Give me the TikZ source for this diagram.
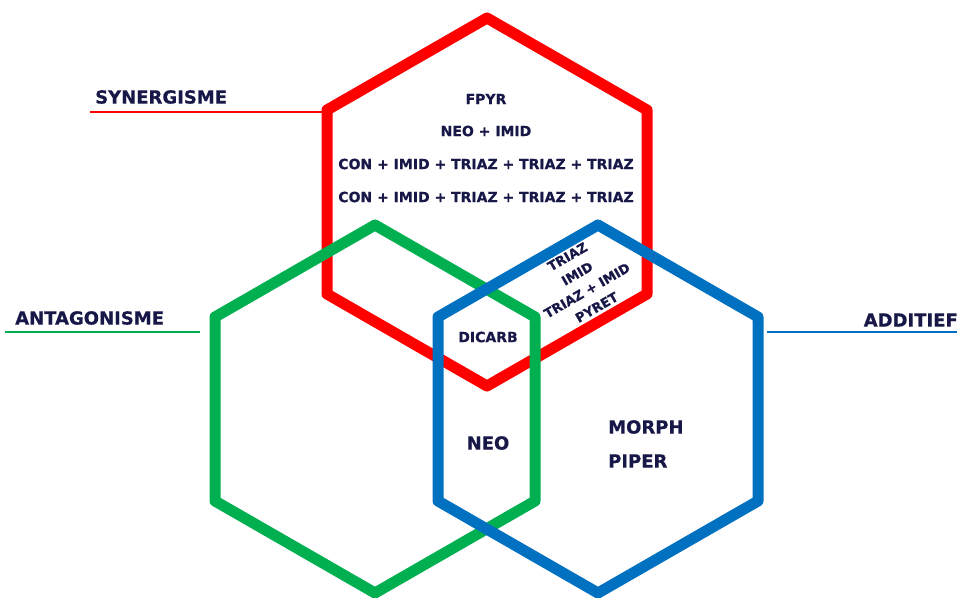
\documentclass[tikz,border=0pt]{standalone}
\usepackage{fontspec}
\setmainfont{DejaVu Sans}[BoldFont={DejaVu Sans Bold}, BoldFeatures={FakeBold=0.6}]
\usetikzlibrary{calc}
\definecolor{synred}{RGB}{255,0,0}
\definecolor{antgreen}{RGB}{0,176,80}
\definecolor{addblue}{RGB}{0,112,192}
\definecolor{inknavy}{RGB}{24,24,72}
\tikzset{
  hexline/.style={line width=11pt, line join=round},
  tagline/.style={line width=2.5pt},
  txt/.style={text=inknavy, font=\bfseries\fontsize{14}{17}\selectfont, inner sep=0pt},
  bigtxt/.style={text=inknavy, font=\bfseries\fontsize{18}{21}\selectfont, inner sep=0pt},
}
% regular hexagon (pointy top) around a centre: #1 name prefix, #2 centre
\newcommand{\hexcoords}[2]{%
  \coordinate (#1c) at #2;
  \coordinate (#1t)  at ($(#1c)+(0,-184)$);
  \coordinate (#1ur) at ($(#1c)+(160,-92)$);
  \coordinate (#1lr) at ($(#1c)+(160,92)$);
  \coordinate (#1b)  at ($(#1c)+(0,184)$);
  \coordinate (#1ll) at ($(#1c)+(-160,92)$);
  \coordinate (#1ul) at ($(#1c)+(-160,-92)$);
}
\begin{document}
\begin{tikzpicture}[x=1pt,y=-1pt]
  \useasboundingbox (0,0) rectangle (960,597);

  \hexcoords{r}{(487,202)}
  \hexcoords{g}{(375,409)}
  \hexcoords{b}{(598,409)}

  % hexagons: red below, green and blue on top
  \draw[hexline, synred]   (rt) -- (rur) -- (rlr) -- (rb) -- (rll) -- (rul) -- cycle;
  \draw[hexline, antgreen] (gt) -- (gur) -- (glr) -- (gb) -- (gll) -- (gul) -- cycle;
  \draw[hexline, addblue]  (bt) -- (bur) -- (blr) -- (bb) -- (bll) -- (bul) -- cycle;

  % side labels with their leader lines
  \node[bigtxt, anchor=west] (syn) at (95,97) {SYNERGISME};
  \coordinate (synstart) at (90,112);
  \draw[tagline, synred] (synstart) -- (rul |- synstart);

  \node[bigtxt, anchor=west] (ant) at (15,318) {ANTAGONISME};
  \coordinate (antstart) at (5,332);
  \coordinate (antend) at (200,332);
  \draw[tagline, antgreen] (antstart) -- (antend);

  \node[bigtxt, anchor=east] (add) at (958,320) {ADDITIEF};
  \coordinate (addstart) at (767,332);
  \coordinate (addend) at (957,332);
  \draw[tagline, addblue] (addstart) -- (addend);

  % contents of the regions
  \node[txt] (fpyr) at (486,99)  {FPYR};
  \node[txt] (neoimid) at (486,131) {NEO + IMID};
  \node[txt] (con1) at (486,164) {CON + IMID + TRIAZ + TRIAZ + TRIAZ};
  \node[txt] (con2) at (486,197) {CON + IMID + TRIAZ + TRIAZ + TRIAZ};

  \node[txt, rotate=30, align=center, font=\bfseries\fontsize{13}{19.5}\selectfont]
    (rbtext) at (582,282) {TRIAZ\\IMID\\TRIAZ + IMID\\PYRET};

  \node[txt] (dicarb) at (488,337) {DICARB};
  \node[bigtxt] (neo) at (488,443) {NEO};
  \node[bigtxt, anchor=west] (morph) at (608,427) {MORPH};
  \node[bigtxt, anchor=west] (piper) at (608,461) {PIPER};
\end{tikzpicture}
\end{document}
